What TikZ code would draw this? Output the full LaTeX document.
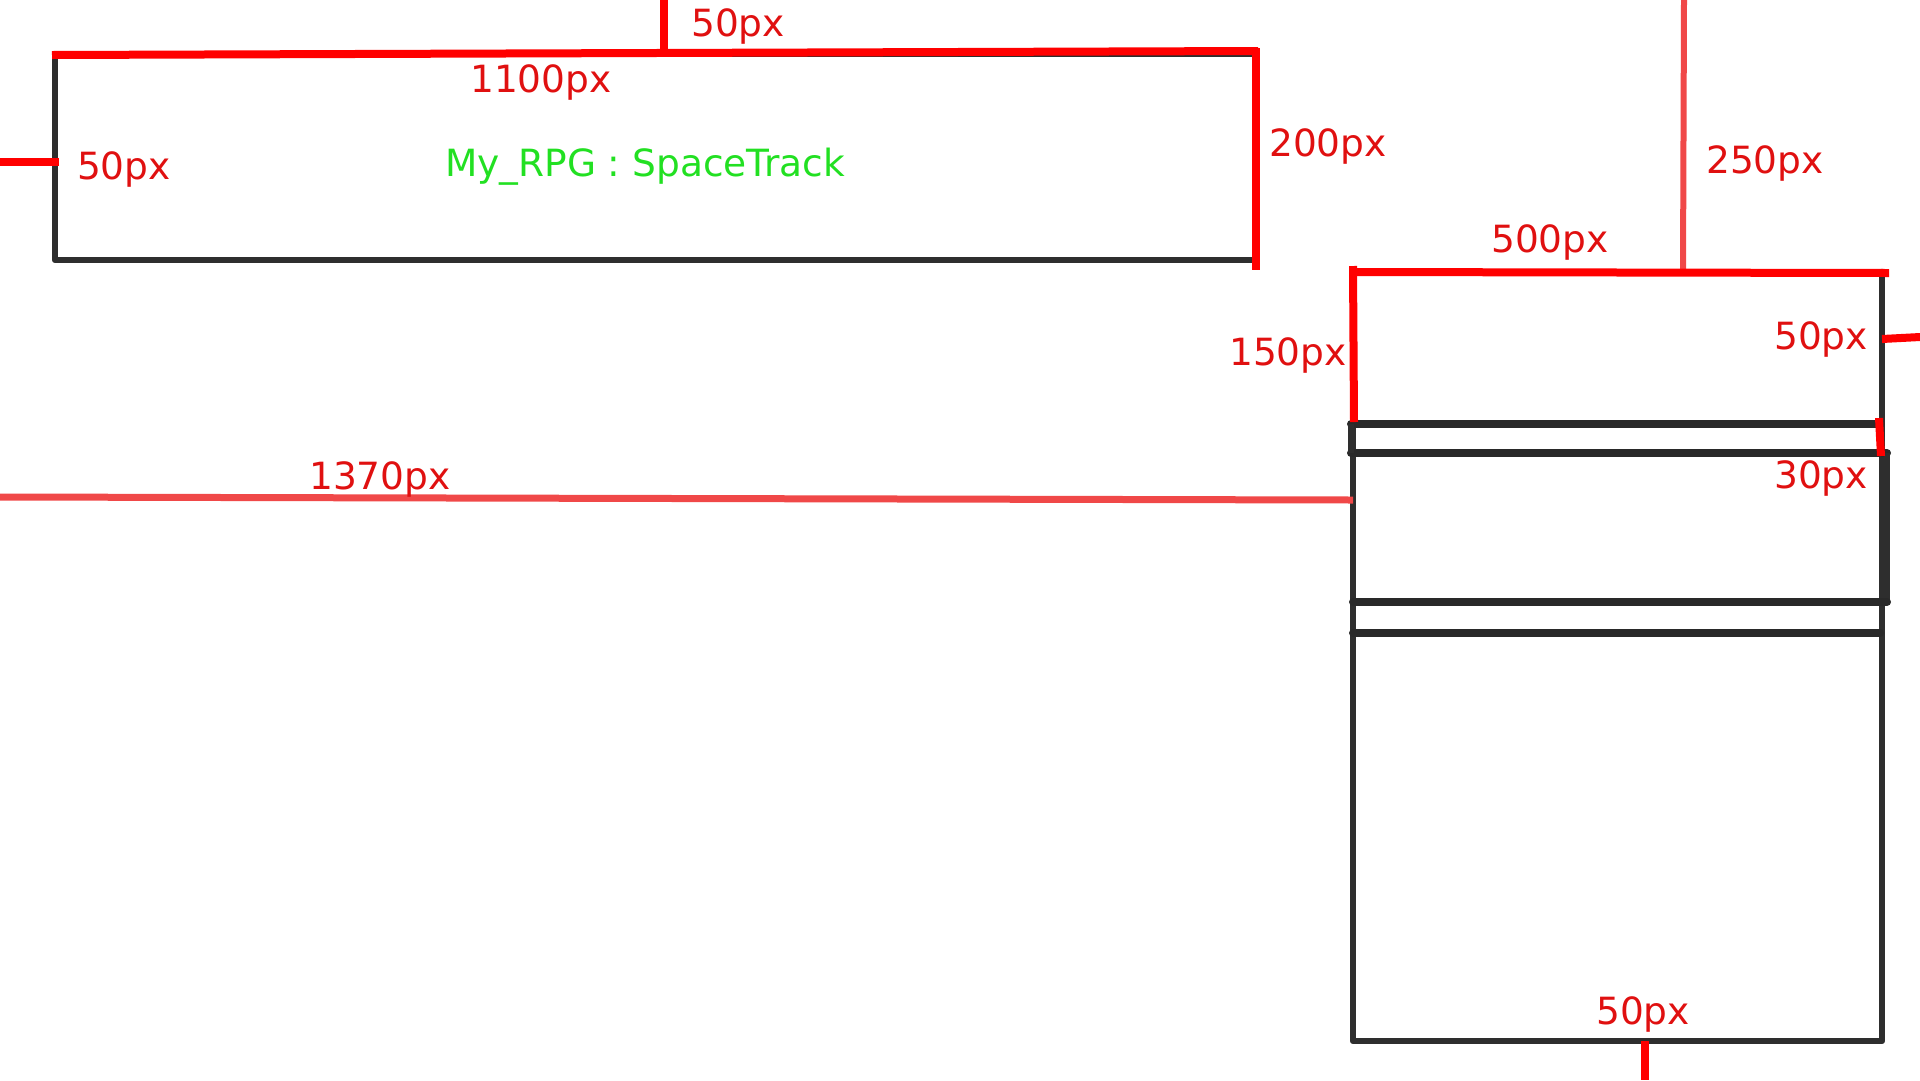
\documentclass[tikz,border=0pt]{standalone}
\usepackage{fontspec}
\setmainfont{DejaVu Sans}
\definecolor{dimred}{HTML}{FF0000}
\definecolor{labred}{HTML}{E01010}
\definecolor{softred}{HTML}{F04848}
\definecolor{labgreen}{HTML}{22E022}
\definecolor{boxgrey}{HTML}{2E2E2E}
\tikzset{
  outline/.style={draw=boxgrey, line width=6.5pt, line cap=round, line join=round},
  bandline/.style={draw=boxgrey!90!black, line width=8pt, line cap=round},
  dimline/.style={draw=dimred, line width=8pt},
  softline/.style={draw=softred, line width=6pt},
  dimlabel/.style={text=labred, inner sep=0pt, font=\fontsize{37.5}{45}\selectfont},
  titlelabel/.style={text=labgreen, inner sep=0pt, font=\fontsize{37.5}{45}\selectfont}
}
\begin{document}
\begin{tikzpicture}[x=1pt,y=-1pt]
\useasboundingbox (0,0) rectangle (1920,1080);
% ---- top box ----
\draw[outline] (55,54) rectangle (1256,260);
\draw[dimline] (52,55) -- (1258,51);
\draw[dimline] (1256,48) -- (1256,270);
\draw[dimline] (664,0) -- (664,54);
\draw[dimline] (0,162) -- (59,162);
\node[dimlabel] (t50) at (738,26) {50px};
\node[dimlabel] (t1100) at (541,82) {1100px};
\node[dimlabel] (l50) at (124,169) {50px};
\node[titlelabel] (title) at (645,167) {My\_RPG : SpaceTrack};
\node[dimlabel] (t200) at (1328,146) {200px};
% ---- right box ----
\draw[outline] (1353,272) -- (1353,1041) -- (1882,1041) -- (1882,272);
\draw[bandline] (1351,424) -- (1880,424);
\draw[bandline] (1351,453) -- (1887,453);
\draw[draw=boxgrey, line width=6.5pt] (1351,424) -- (1351,453);
\draw[draw=boxgrey, line width=6.5pt] (1887,453) -- (1887,602);
\draw[bandline] (1353,602) -- (1887,602);
\draw[bandline] (1353,633) -- (1880,633);
\draw[softline] (1684,0) -- (1683,272);
\draw[dimline] (1353,272) -- (1889,273);
\draw[dimline] (1353,266) -- (1354,422);
\draw[dimline] (1882,339) -- (1920,337);
\draw[dimline] (1879,418) -- (1881,456);
\draw[softline, line width=7pt] (0,497) -- (1353,500);
\draw[dimline] (1645,1041) -- (1645,1080);
\node[dimlabel] (t250) at (1765,163) {250px};
\node[dimlabel] (t500) at (1550,242) {500px};
\node[dimlabel] (t150) at (1288,355) {150px};
\node[dimlabel] (r50) at (1821,339) {50px};
\node[dimlabel] (r30) at (1821,478) {30px};
\node[dimlabel] (t1370) at (380,479) {1370px};
\node[dimlabel] (b50) at (1643,1014) {50px};
\end{tikzpicture}
\end{document}
